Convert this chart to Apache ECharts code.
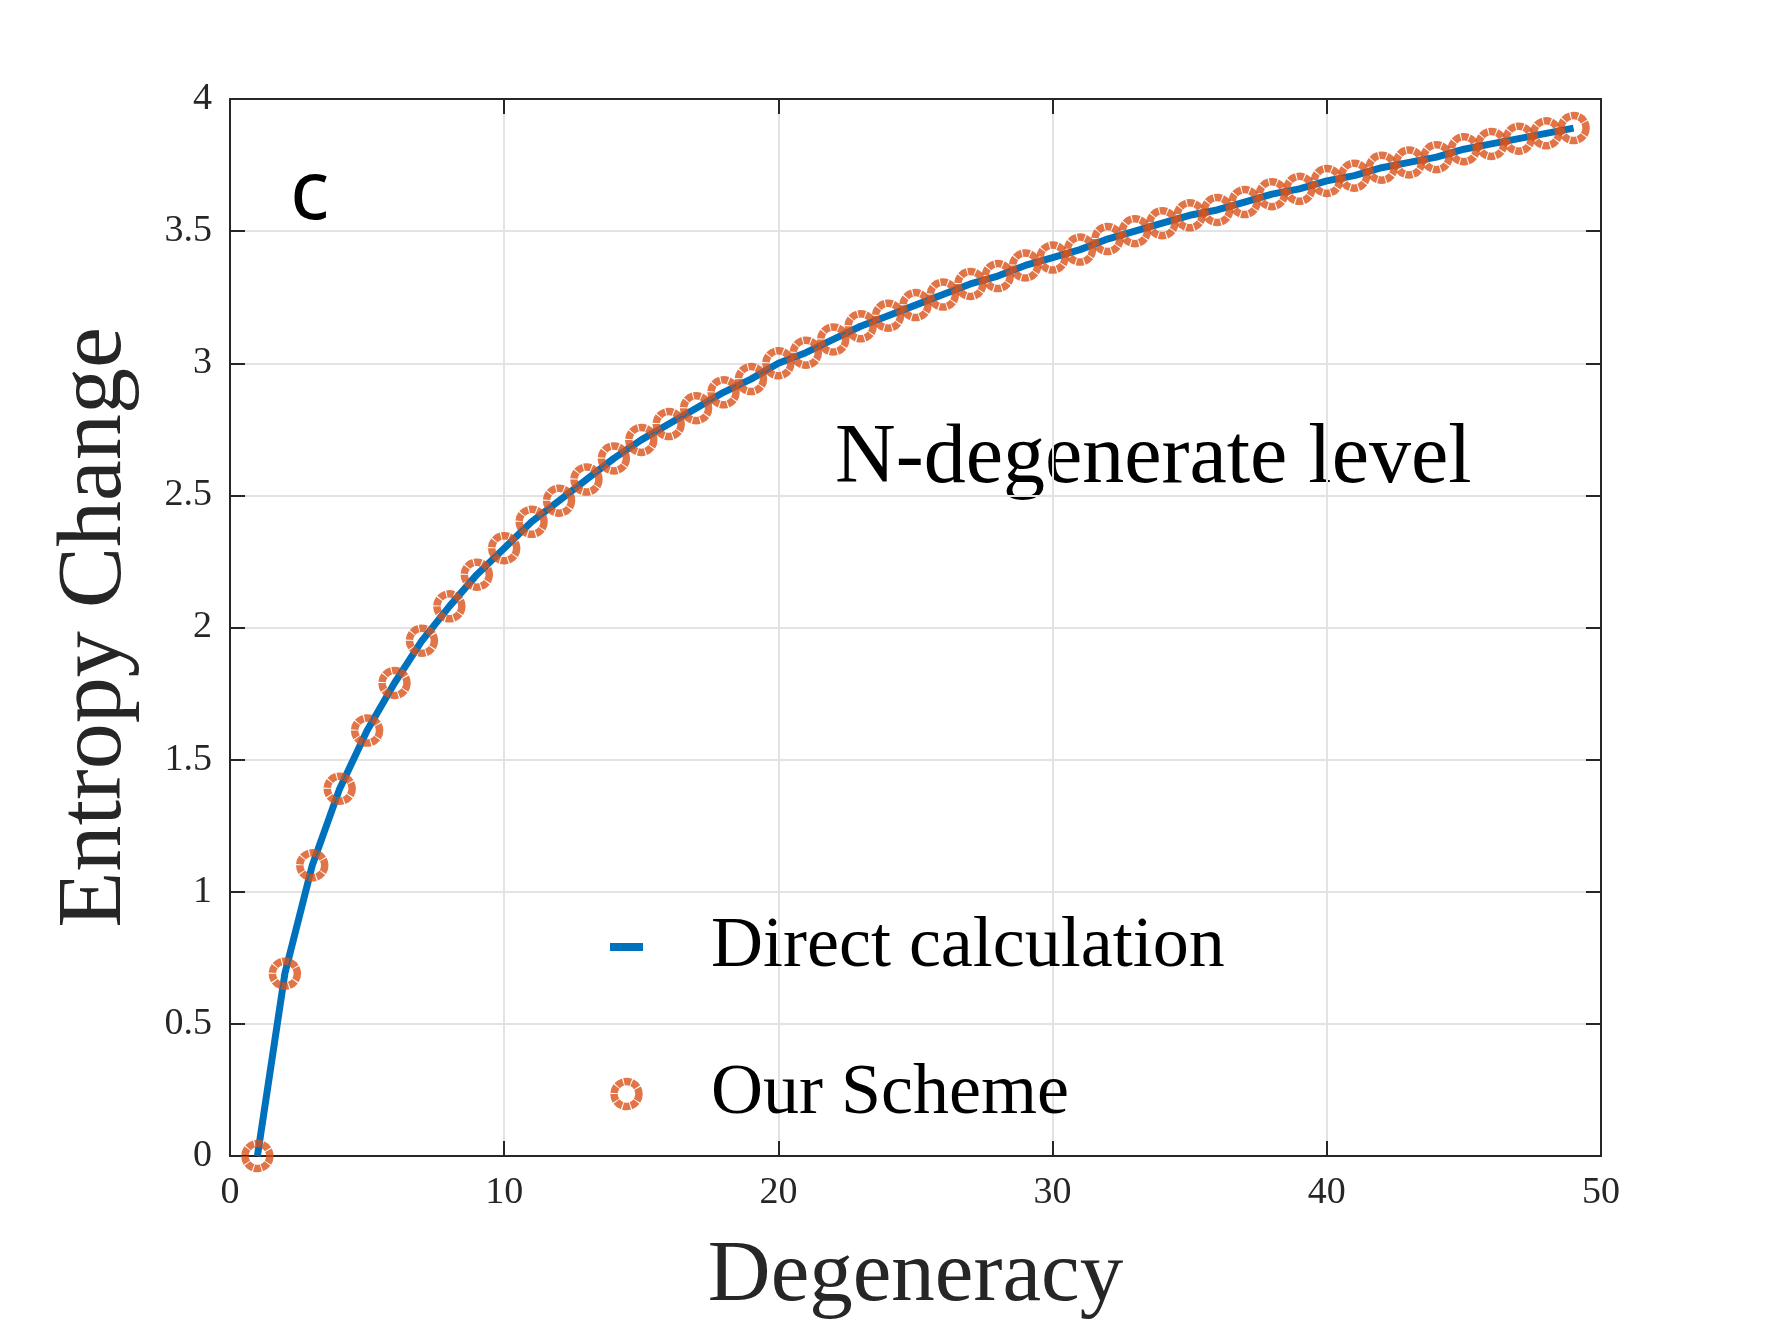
<!DOCTYPE html>
<html>
<head>
<meta charset="utf-8">
<title>Entropy Change vs Degeneracy</title>
<script src="https://cdn.jsdelivr.net/npm/echarts@6/dist/echarts.min.js"></script>
<style>
  html, body { margin: 0; padding: 0; background: #fff; }
  #main { width: 1768px; height: 1326px; }
</style>
</head>
<body>
<div id="main"></div>
<script>
// degeneracy N (x) and entropy change
const degeneracy = [1, 2, 3, 4, 5, 6, 7, 8, 9, 10, 11, 12, 13, 14, 15, 16, 17, 18, 19, 20,
  21, 22, 23, 24, 25, 26, 27, 28, 29, 30, 31, 32, 33, 34, 35, 36, 37, 38, 39, 40,
  41, 42, 43, 44, 45, 46, 47, 48, 49]
const directCalc = [0, 0.69, 1.10, 1.39, 1.61, 1.79, 1.95, 2.08, 2.20, 2.30,
  2.40, 2.48, 2.56, 2.64, 2.71, 2.77, 2.83, 2.89, 2.94, 3.00,
  3.04, 3.09, 3.14, 3.18, 3.22, 3.26, 3.30, 3.33, 3.37, 3.40,
  3.43, 3.47, 3.50, 3.53, 3.56, 3.58, 3.61, 3.64, 3.66, 3.69,
  3.71, 3.74, 3.76, 3.78, 3.81, 3.83, 3.85, 3.87, 3.89]
const ourScheme = [0, 0.69, 1.10, 1.39, 1.61, 1.79, 1.95, 2.08, 2.20, 2.30,
  2.40, 2.48, 2.56, 2.64, 2.71, 2.77, 2.83, 2.89, 2.94, 3.00,
  3.04, 3.09, 3.14, 3.18, 3.22, 3.26, 3.30, 3.33, 3.37, 3.40,
  3.43, 3.47, 3.50, 3.53, 3.56, 3.58, 3.61, 3.64, 3.66, 3.69,
  3.71, 3.74, 3.76, 3.78, 3.81, 3.83, 3.85, 3.87, 3.89]
const legendNames = ['Direct calculation', 'Our Scheme']

const blue = '#0072BD'
const orange = '#D95319'
const axisColor = '#262626'
const serif = '"Liberation Serif", "DejaVu Serif", serif'

const chart = echarts.init(document.getElementById('main'))

const axisCommon = {
  type: 'value',
  axisLine: { show: true, onZero: false, lineStyle: { color: axisColor, width: 2 } },
  axisTick: { show: true, inside: true, length: 15, lineStyle: { color: axisColor, width: 2 } }
}

let option = {
  animation: false,
  backgroundColor: '#fff',
  grid: {
    left: 230,
    top: 99,
    right: 167,
    bottom: 170
  },
  legend: {
    orient: 'vertical',
    left: 610,
    top: 907,
    padding: 0,
    itemWidth: 33,
    itemHeight: 25,
    itemGap: 67,
    textStyle: {
      fontFamily: serif,
      fontSize: 72,
      color: '#000',
      lineHeight: 80,
      padding: [0, 0, 0, 63]
    },
    data: [
      {
        name: legendNames[0],
        icon: 'path://M0,0H33V8H0Z',
        itemStyle: { color: blue }
      },
      {
        name: legendNames[1],
        icon: 'circle',
        itemStyle: { color: 'rgba(0,0,0,0)', borderColor: orange, borderWidth: 7.5, borderType: [7, 1] }
      }
    ]
  },
  xAxis: [
    Object.assign({}, axisCommon, {
      position: 'bottom',
      min: 0,
      max: 50,
      interval: 10,
      name: 'Degeneracy',
      nameLocation: 'middle',
      nameGap: 78,
      nameTextStyle: { fontFamily: serif, fontSize: 87, color: axisColor },
      axisLabel: { fontFamily: serif, fontSize: 38, color: axisColor, margin: 18 },
      splitLine: { show: true, lineStyle: { color: '#e3e3e3', width: 2 } }
    }),
    Object.assign({}, axisCommon, {
      position: 'top',
      min: 0,
      max: 50,
      interval: 10,
      axisLabel: { show: false },
      splitLine: { show: false }
    })
  ],
  yAxis: [
    Object.assign({}, axisCommon, {
      position: 'left',
      min: 0,
      max: 4,
      interval: 0.5,
      name: 'Entropy Change',
      nameLocation: 'middle',
      nameRotate: 90,
      nameGap: 88,
      nameTextStyle: { fontFamily: serif, fontSize: 92, color: axisColor },
      axisLabel: { fontFamily: serif, fontSize: 38, color: axisColor, margin: 18 },
      splitLine: { show: true, lineStyle: { color: '#e3e3e3', width: 2 } }
    }),
    Object.assign({}, axisCommon, {
      position: 'right',
      min: 0,
      max: 4,
      interval: 0.5,
      axisLabel: { show: false },
      splitLine: { show: false }
    })
  ],
  graphic: [
    {
      type: 'text',
      x: 290,
      y: 196,
      style: {
        text: 'c',
        fontFamily: '"Noto Sans", "DejaVu Sans", sans-serif',
        fontSize: 82,
        fill: '#000',
        verticalAlign: 'middle',
        align: 'left'
      }
    },
    {
      type: 'text',
      x: 835,
      y: 460,
      style: {
        text: 'N-degenerate level',
        fontFamily: serif,
        fontSize: 84,
        fill: '#000',
        verticalAlign: 'middle',
        align: 'left'
      }
    }
  ],
  series: [
    {
      name: legendNames[0],
      type: 'line',
      data: degeneracy.map((n, i) => [n, directCalc[i]]),
      showSymbol: false,
      symbol: 'none',
      lineStyle: { color: blue, width: 7 },
      itemStyle: { color: blue },
      z: 2
    },
    {
      name: legendNames[1],
      type: 'scatter',
      data: degeneracy.map((n, i) => [n, ourScheme[i]]),
      symbol: 'circle',
      symbolSize: 25,
      itemStyle: {
        color: 'rgba(0,0,0,0)',
        borderColor: orange,
        borderWidth: 7.5,
        borderType: [7, 1]
      },
      z: 3
    }
  ]
}

chart.setOption(option)
</script>
</body>
</html>
